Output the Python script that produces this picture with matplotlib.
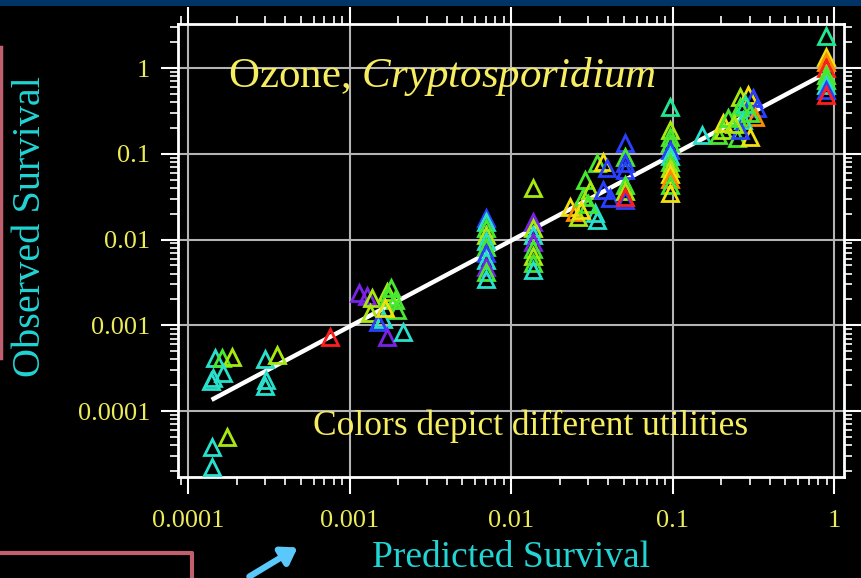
import numpy as np
import matplotlib.pyplot as plt
from matplotlib.patches import Rectangle, FancyArrowPatch
from matplotlib.lines import Line2D

plt.rcParams['font.family'] = ['Liberation Serif', 'DejaVu Serif']
plt.rcParams['mathtext.fontset'] = 'custom'
plt.rcParams['mathtext.rm'] = 'Liberation Serif'
plt.rcParams['mathtext.it'] = 'Liberation Serif:italic'

# colours used for the different utilities
palette = {
    'red': '#ff1e1e', 'orange': '#ff8c00', 'yellow': '#f2e010',
    'ygreen': '#a8e810', 'green': '#48e830', 'gcyan': '#20e890',
    'cyan': '#28e0cc', 'blue': '#2a40ff', 'purple': '#7a22e8',
}

# predicted survival, observed survival, utility colour
predicted = [
    1.47e-4, 1.62e-4, 1.87e-4, 1.65e-4, 1.43e-4, 1.39e-4, 1.74e-4, 1.41e-4, 1.41e-4,
    3.0e-4, 3.56e-4, 3.04e-4, 3.0e-4,
    7.57e-4,
    1.15e-3, 1.28e-3, 1.38e-3, 1.71e-3, 1.73e-3, 1.91e-3, 1.97e-3, 1.34e-3, 1.61e-3,
    1.50e-3, 1.71e-3, 2.14e-3, 1.65e-3, 1.80e-3,
    0.0070, 0.0070, 0.0070, 0.0070, 0.0070, 0.0070, 0.0070, 0.0070, 0.0070, 0.0070, 0.0070,
    0.0137, 0.0137, 0.0137, 0.0137, 0.0137, 0.0137, 0.0137, 0.0137, 0.0137,
    0.0232, 0.0249, 0.026, 0.0279, 0.0287, 0.0308, 0.0341, 0.0372, 0.0393, 0.0372,
    0.041, 0.0331, 0.0341, 0.030, 0.027,
    0.0508, 0.0508, 0.0508, 0.0508, 0.0508, 0.0508, 0.0508, 0.0508,
    0.0966, 0.0966, 0.0966, 0.0966, 0.0966, 0.0966, 0.0966, 0.0966, 0.0966, 0.0966,
    0.0966, 0.0966, 0.152, 0.191,
    0.262, 0.294, 0.315, 0.334, 0.325, 0.262, 0.251, 0.273, 0.206, 0.206, 0.251,
    0.302, 0.262, 0.221, 0.28, 0.30, 0.24,
    0.892, 0.892, 0.892, 0.892, 0.892, 0.892, 0.892, 0.892, 0.892,
]
observed = [
    4.15e-4, 4.15e-4, 4.26e-4, 2.77e-4, 2.43e-4, 2.24e-4, 4.97e-5, 3.8e-5, 2.22e-5,
    4.04e-4, 4.5e-4, 2.3e-4, 1.96e-4,
    7.3e-4,
    2.38e-3, 2.19e-3, 2.08e-3, 2.44e-3, 2.13e-3, 1.97e-3, 1.51e-3, 1.39e-3, 1.18e-3,
    1.09e-3, 7.3e-4, 8.3e-4, 1.6e-3, 2.7e-3,
    0.0178, 0.0159, 0.0136, 0.0114, 0.0096, 0.0082, 0.0069, 0.0058, 0.0048, 0.0042, 0.0035,
    0.0159, 0.0136, 0.0114, 0.0094, 0.0078, 0.0064, 0.0053, 0.0044, 0.040,
    0.0239, 0.0209, 0.0183, 0.0313, 0.0494, 0.038, 0.078, 0.080, 0.068, 0.0378,
    0.0305, 0.0204, 0.0169, 0.026, 0.022,
    0.133, 0.0916, 0.0647, 0.078, 0.0433, 0.0368, 0.0289, 0.031,
    0.351, 0.189, 0.157, 0.133, 0.111, 0.094, 0.080, 0.068, 0.058, 0.051,
    0.0433, 0.035, 0.165, 0.165,
    0.459, 0.484, 0.447, 0.342, 0.268, 0.351, 0.268, 0.248, 0.228, 0.189, 0.153,
    0.157, 0.189, 0.261, 0.38, 0.30, 0.22,
    2.36, 1.34, 1.17, 1.0, 0.83, 0.72, 0.63, 0.554, 0.484,
]
utility = [
    'cyan', 'green', 'ygreen', 'cyan', 'cyan', 'cyan', 'ygreen', 'cyan', 'cyan',
    'cyan', 'ygreen', 'cyan', 'cyan',
    'red',
    'purple', 'purple', 'ygreen', 'ygreen', 'green', 'green', 'green', 'ygreen', 'cyan',
    'blue', 'purple', 'cyan', 'yellow', 'green',
    'blue', 'cyan', 'green', 'ygreen', 'cyan', 'green', 'blue', 'cyan', 'purple', 'green', 'cyan',
    'purple', 'ygreen', 'cyan', 'purple', 'green', 'ygreen', 'green', 'cyan', 'ygreen',
    'yellow', 'orange', 'ygreen', 'green', 'green', 'ygreen', 'green', 'yellow', 'blue', 'blue',
    'blue', 'cyan', 'cyan', 'green', 'yellow',
    'blue', 'green', 'blue', 'blue', 'green', 'ygreen', 'blue', 'red',
    'gcyan', 'ygreen', 'green', 'green', 'blue', 'cyan', 'green', 'ygreen', 'yellow', 'orange',
    'green', 'yellow', 'cyan', 'green',
    'ygreen', 'yellow', 'blue', 'blue', 'orange', 'green', 'green', 'cyan', 'yellow', 'ygreen', 'green',
    'yellow', 'blue', 'green', 'gcyan', 'green', 'ygreen',
    'gcyan', 'yellow', 'orange', 'red', 'green', 'green', 'cyan', 'blue', 'red',
]

# 1:1 model line
fit_x = [1.4e-4, 0.85]
fit_y = [1.35e-4, 0.83]

tick_vals = [1e-4, 1e-3, 1e-2, 1e-1, 1]
tick_labels = ['0.0001', '0.001', '0.01', '0.1', '1']

yellow_txt = '#ecec5a'
cyan_txt = '#22d4d4'

fig = plt.figure(figsize=(8.62, 5.78), dpi=100, facecolor='black')
ax = fig.add_axes([178/862, 1 - 477/578, 666/862, 453/578])
ax.set_facecolor('black')
ax.set_xscale('log')
ax.set_yscale('log')
ax.set_xlim(8.67e-5, 1.153)
ax.set_ylim(1.70e-5, 3.26)

ax.grid(True, which='major', color='#b4b4b4', lw=1.5)
ax.set_axisbelow(True)

ax.plot(fit_x, fit_y, color='white', lw=3.2, solid_capstyle='butt', zorder=2)

for p, o, c in zip(predicted, observed, utility):
    ax.plot(p, o, marker='^', ms=11, mfc='none', mec=palette[c], mew=2, ls='none', zorder=3)

ax.set_xticks(tick_vals, labels=tick_labels)
ax.set_yticks(tick_vals, labels=tick_labels)
ax.tick_params(which='both', direction='out', color='white', top=True, right=True,
               labelcolor=yellow_txt, labelsize=19)
ax.tick_params(which='major', length=12, width=1.5)
ax.tick_params(which='minor', length=6, width=1.2)
ax.tick_params(axis='x', which='major', pad=12)
ax.tick_params(axis='y', which='major', pad=8)
for s in ax.spines.values():
    s.set_color('white')
    s.set_linewidth(2)

ax.text(0.075, 0.861, r'Ozone, $\mathit{Cryptosporidium}$', transform=ax.transAxes,
        color='#f6ee60', fontsize=31, va='baseline', ha='left')
ax.text(0.203, 0.093, 'Colors depict different utilities', transform=ax.transAxes,
        color='#f6ee60', fontsize=25.5, va='baseline', ha='left')

fig.text(0.035, 1 - 227/578, 'Observed Survival', rotation=90, color=cyan_txt,
         fontsize=29, ha='center', va='center')
fig.text(511/862, 1 - 575/578, 'Predicted Survival', color=cyan_txt,
         fontsize=27, ha='center', va='bottom')

# slide decorations: navy top band, pink frame pieces, blue arrow
fig.patches.append(Rectangle((0, 1 - 6/578), 1, 6/578, transform=fig.transFigure,
                             facecolor='#003366', edgecolor='none'))
pink = '#c0606e'
fig.lines.append(Line2D([1.5/862, 1.5/862], [1 - 47/578, 1 - 358/578],
                        transform=fig.transFigure, color=pink, lw=2.5))
fig.lines.append(Line2D([0, 192/862, 192/862], [1 - 553/578, 1 - 553/578, 0],
                        transform=fig.transFigure, color=pink, lw=3))
fig.add_artist(FancyArrowPatch(
    (247/862, 0), (300/862, 1 - 546/578), transform=fig.transFigure,
    arrowstyle='-|>,head_length=9,head_width=6', color='#5ac8fa', lw=4.5))

fig.savefig('out.png', dpi=100, facecolor='black')
